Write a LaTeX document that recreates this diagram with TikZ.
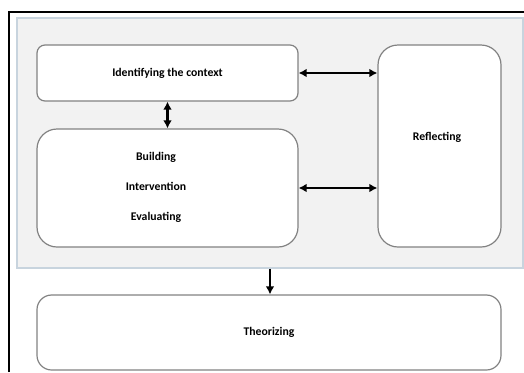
\documentclass[tikz,border=0pt]{standalone}
\usepackage{fontspec}
\setmainfont{Carlito}
\usetikzlibrary{arrows.meta}
\definecolor{fondgris}{RGB}{242,242,242}
\definecolor{bordfond}{RGB}{200,212,222}
\definecolor{bordboite}{RGB}{130,130,130}
\begin{document}
\begin{tikzpicture}[x=0.75pt,y=-0.75pt]
% Styles
\tikzstyle{cadre}=[line width=2pt]
\tikzstyle{fond}=[draw=bordfond,fill=fondgris,line width=0.8pt,inner sep=0pt]
\tikzstyle{boite}=[draw=bordboite,fill=white,line width=0.9pt,inner sep=0pt,font=\fontsize{8.8}{10}\selectfont\bfseries]
\tikzstyle{texte}=[inner sep=0pt,align=center,font=\fontsize{8.8}{22.5}\selectfont\bfseries]
\tikzstyle{fleche}=[{Latex[length=6pt,width=6.5pt]}-{Latex[length=6pt,width=6.5pt]},line width=1.6pt]
\tikzstyle{descente}=[-{Latex[length=6pt,width=6.5pt]},line width=1.6pt]
% Dimensions
\def\u{0.75pt}
\useasboundingbox (0,0) rectangle (524,372);
% Encadrement
\draw[cadre] (9,372) -- (9,12) -- (524,12);
\node[fond,minimum width=506*\u,minimum height=250*\u] (panneau) at (270,143) {};
% Boites
\node[boite,rounded corners=6pt,minimum width=261*\u,minimum height=56*\u] (contexte) at (167.5,73) {Identifying the context};
\node[boite,rounded corners=15pt,minimum width=261*\u,minimum height=118*\u] (construction) at (167.5,188) {};
\node[texte] (etapes) at (156,187) {Building\\Intervention\\Evaluating};
\node[boite,rounded corners=15pt,minimum width=123*\u,minimum height=202*\u] (reflexion) at (439.5,146) {};
\node[texte] (reflexiontexte) at (437,137) {Reflecting};
\node[boite,rounded corners=11pt,minimum width=464*\u,minimum height=75*\u] (theorie) at (269,332.5) {Theorizing};
% Fleches
\draw[fleche] (contexte.east) -- (contexte.east -| reflexion.west);
\draw[fleche] (construction.east) -- (construction.east -| reflexion.west);
\draw[fleche] (contexte.south) -- (construction.north);
\draw[descente] (panneau.south) -- (panneau.south |- theorie.north);
\end{tikzpicture}
\end{document}
